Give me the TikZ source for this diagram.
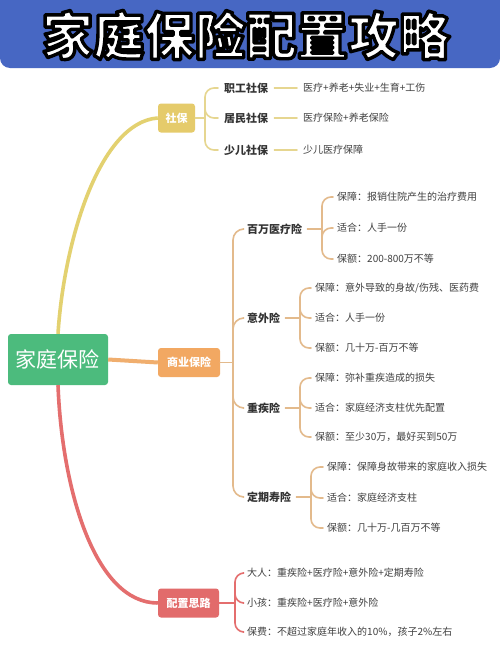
\documentclass[tikz,border=0pt]{standalone}
\usepackage{fontspec}
\setmainfont{Noto Sans CJK SC}
\newfontfamily\titlefont{Noto Sans CJK SC}
\usetikzlibrary{calc}
\definecolor{bannerblue}{HTML}{4767C3}
\definecolor{ynode}{HTML}{E5CB6B}
\definecolor{yline}{HTML}{E3D170}
\definecolor{ythin}{HTML}{E6D690}
\definecolor{onode}{HTML}{F2A862}
\definecolor{oline}{HTML}{F0AE6E}
\definecolor{othin}{HTML}{E3BA8C}
\definecolor{rnode}{HTML}{E26B6B}
\definecolor{rline}{HTML}{E46E6E}
\definecolor{gnode}{HTML}{4CBB7D}
\definecolor{lblc}{HTML}{333333}
\definecolor{detc}{HTML}{404040}
\newcommand{\outlinedtext}[1]{\special{pdf:literal direct 2 Tr 3.4 w 1 j 0 0 0 RG}#1\special{pdf:literal direct 0 Tr 0.4 w 0 j}}
\tikzset{
  lbl/.style={font=\bfseries\fontsize{11}{13}\selectfont, text=lblc, inner sep=0pt, anchor=west},
  det/.style={font=\fontsize{10}{12}\selectfont, text=detc, inner sep=0pt, anchor=west},
  cat/.style={rounded corners=3pt, text=white, font=\bfseries\fontsize{11}{13}\selectfont, minimum height=29pt, inner sep=0pt},
  rootbox/.style={rounded corners=3pt, fill=gnode, text=white, font=\fontsize{21}{24}\selectfont, minimum width=100pt, minimum height=51pt, inner sep=0pt},
  ttl/.style={font=\titlefont\bfseries\fontsize{51}{51}\selectfont, inner sep=0pt},
  thinline/.style={line width=1.6pt, line cap=round},
  brace/.style={thinline, rounded corners=9pt},
  bigbrace/.style={thinline, rounded corners=11pt}
}
\begin{document}
\begin{tikzpicture}[x=1pt,y=-1pt]
\useasboundingbox (0,0) rectangle (500,656);
\fill[white] (0,0) rectangle (500,656);
% banner
\begin{scope}
\clip (0,0) rectangle (500,70);
\fill[bannerblue, rounded corners=10pt] (0,-20) rectangle (500,68);
\end{scope}
\node[ttl, text=white] (title) at (246,35) {\outlinedtext{家庭保险配置攻略}};

% main nodes
\node[rootbox] (root) at (58,359.5) {家庭保险};
\node[cat, fill=ynode, minimum width=37pt] (sb) at (176.5,118) {社保};
\node[cat, fill=onode, minimum width=62pt] (sy) at (189,362.5) {商业保险};
\node[cat, fill=rnode, minimum width=61pt] (pz) at (188.5,603) {配置思路};

\draw[yline, line width=3.6pt] (root.north) .. controls (64,240) and (100,122) .. (sb.west);
\draw[oline, line width=4pt] (root.east) -- (sy.west);
\draw[rline, line width=3.6pt] (root.south) .. controls (62,490) and (95,603) .. (pz.west);

% 社保
\node[lbl] (zg) at (224,88) {职工社保};
\node[lbl] (jm) at (224,118) {居民社保};
\node[lbl] (se) at (224,150) {少儿社保};
\node[det] (zgd) at (303,88) {医疗+养老+失业+生育+工伤};
\node[det] (jmd) at (303,118) {医疗保险+养老保险};
\node[det] (sed) at (303,150) {少儿医疗保障};
\coordinate (jsb) at (205,118);
\draw[ythin, thinline] (sb.east) -- (jsb);
\foreach \c in {zg,jm,se}
  \draw[ythin, brace] (jsb) |- ($(\c.west)+(-6,0)$);
\draw[ythin, thinline, shorten <=6pt, shorten >=6pt] (zg.east) -- (zgd.west);
\draw[ythin, thinline, shorten <=6pt, shorten >=6pt] (jm.east) -- (jmd.west);
\draw[ythin, thinline, shorten <=6pt, shorten >=6pt] (se.east) -- (sed.west);

% 商业保险
\node[lbl] (bw) at (247,229) {百万医疗险};
\node[lbl] (yw) at (247,318) {意外险};
\node[lbl] (zj) at (247,408) {重疾险};
\node[lbl] (dq) at (247,497) {定期寿险};
\coordinate (jsy) at (233,362.5);
\draw[othin, thinline] (sy.east) -- (jsy);
\foreach \c in {bw,yw,zj,dq}
  \draw[othin, bigbrace] (jsy) |- ($(\c.west)+(-4,0)$);

% 百万医疗险
\node[det] (bw1) at (337,197) {保障：报销住院产生的治疗费用};
\node[det] (bw2) at (337,228) {适合：人手一份};
\node[det] (bw3) at (337,259) {保额：200-800万不等};
\coordinate (jbw) at (322,229);
\draw[othin, thinline, shorten <=5pt] (bw.east) -- (jbw);
\foreach \c in {bw1,bw2,bw3}
  \draw[othin, brace] (jbw) |- ($(\c.west)+(-4,0)$);

% 意外险
\node[det] (yw1) at (315,288) {保障：意外导致的身故/伤残、医药费};
\node[det] (yw2) at (315,318) {适合：人手一份};
\node[det] (yw3) at (315,348) {保额：几十万-百万不等};
\coordinate (jyw) at (300,318);
\draw[othin, thinline, shorten <=5pt] (yw.east) -- (jyw);
\foreach \c in {yw1,yw2,yw3}
  \draw[othin, brace] (jyw) |- ($(\c.west)+(-4,0)$);

% 重疾险
\node[det] (zj1) at (315,378) {保障：弥补重疾造成的损失};
\node[det] (zj2) at (315,408) {适合：家庭经济支柱优先配置};
\node[det] (zj3) at (315,437) {保额：至少30万，最好买到50万};
\coordinate (jzj) at (300,408);
\draw[othin, thinline, shorten <=5pt] (zj.east) -- (jzj);
\foreach \c in {zj1,zj2,zj3}
  \draw[othin, brace] (jzj) |- ($(\c.west)+(-4,0)$);

% 定期寿险
\node[det] (dq1) at (327,467) {保障：保障身故带来的家庭收入损失};
\node[det] (dq2) at (327,498) {适合：家庭经济支柱};
\node[det] (dq3) at (327,528) {保额：几十万-几百万不等};
\coordinate (jdq) at (311,497);
\draw[othin, thinline, shorten <=5pt] (dq.east) -- (jdq);
\foreach \c in {dq1,dq2,dq3}
  \draw[othin, brace] (jdq) |- ($(\c.west)+(-4,0)$);

% 配置思路
\node[det] (pz1) at (247,573) {大人：重疾险+医疗险+意外险+定期寿险};
\node[det] (pz2) at (247,603) {小孩：重疾险+医疗险+意外险};
\node[det] (pz3) at (247,632) {保费：不超过家庭年收入的10\%，孩子2\%左右};
\coordinate (jpz) at (235,603);
\draw[rline, thinline] (pz.east) -- (jpz);
\foreach \c in {pz1,pz2,pz3}
  \draw[rline, brace] (jpz) |- ($(\c.west)+(-4,0)$);
\end{tikzpicture}
\end{document}
